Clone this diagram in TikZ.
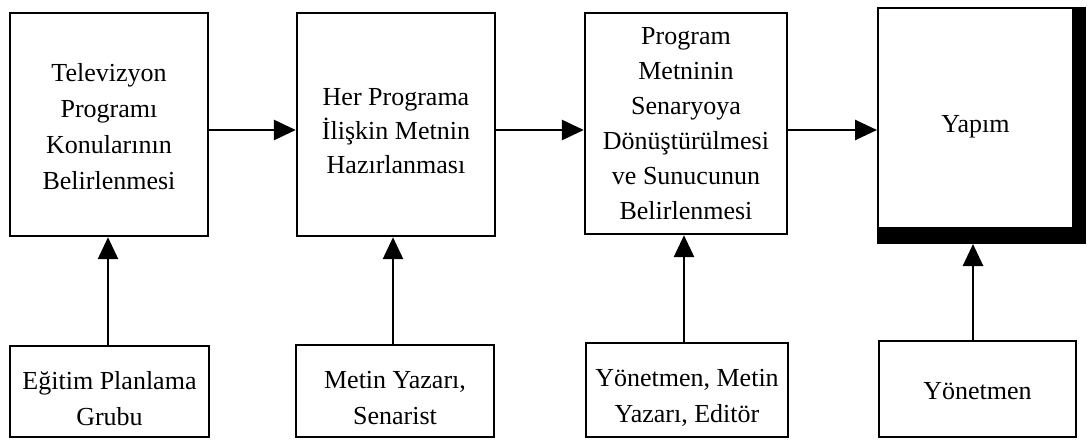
\documentclass[tikz,border=0pt]{standalone}
\usepackage{fontspec}
\setmainfont{Liberation Serif}
\usetikzlibrary{arrows.meta,backgrounds}
\newcommand{\pushdown}[1]{\rule{0pt}{#1}}
\begin{document}
\begin{tikzpicture}[x=1pt,y=-1pt,
  box/.style={draw=black,line width=2.4pt,fill=white,align=center,inner sep=0pt,
    font=\fontsize{26}{36}\selectfont},
  arr/.style={line width=2.8pt,-{Triangle[length=22pt,width=20pt]}}]
\useasboundingbox (0,0) rectangle (1087,441);
% top boxes
\node[box,minimum width=198pt,minimum height=223pt] (t1) at (109,124.5)
  {\pushdown{22pt}Televizyon\\Programı\\Konularının\\Belirlenmesi};
\node[box,minimum width=198pt,minimum height=223pt,font=\fontsize{26}{34}\selectfont] (t2) at (396,124.5)
  {\pushdown{31pt}Her Programa\\İlişkin Metnin\\Hazırlanması};
\node[box,minimum width=202pt,minimum height=221pt,font=\fontsize{26}{35}\selectfont] (t3) at (686,123.5)
  {Program\\Metninin\\Senaryoya\\Dönüştürülmesi\\ve Sunucunun\\Belirlenmesi};
\node[box,line width=2pt,minimum width=195pt,minimum height=220pt] (t4) at (975.5,118)
  {\pushdown{34pt}Yapım};
\begin{scope}[on background layer]
  \fill[black] (t4.north west) rectangle ([xshift=12pt,yshift=-15pt]t4.south east);
\end{scope}
% bottom boxes
\node[box,minimum width=199pt,minimum height=91pt] (b1) at (109.5,391.5)
  {\pushdown{32pt}Eğitim Planlama\\Grubu};
\node[box,minimum width=198pt,minimum height=92pt] (b2) at (395,391)
  {\pushdown{32pt}Metin Yazarı,\\Senarist};
\node[box,minimum width=202pt,minimum height=94pt] (b3) at (687,390)
  {\pushdown{32pt}Yönetmen, Metin\\Yazarı, Editör};
\node[box,minimum width=197pt,minimum height=96pt] (b4) at (977.5,389)
  {\pushdown{22pt}Yönetmen};
% vertical arrows
\draw[arr] ([xshift=-1.5pt]b1.north) -- ([xshift=-1.5pt]b1.north |- t1.south);
\draw[arr] ([xshift=-2pt]b2.north) -- ([xshift=-2pt]b2.north |- t2.south);
\draw[arr] ([xshift=-3pt]b3.north) -- ([xshift=-3pt]b3.north |- t3.south);
\draw[arr] ([xshift=-4.5pt]b4.north) -- ([yshift=-15pt,xshift=-4.5pt]b4.north |- t4.south);
% horizontal arrows
\draw[arr] ([yshift=-5.5pt]t1.east) -- ([yshift=-5.5pt]t1.east -| t2.west);
\draw[arr] ([yshift=-5.5pt]t2.east) -- ([yshift=-5.5pt]t2.east -| t3.west);
\draw[arr] ([yshift=-6.5pt]t3.east) -- ([yshift=-6.5pt]t3.east -| t4.west);
\end{tikzpicture}
\end{document}
